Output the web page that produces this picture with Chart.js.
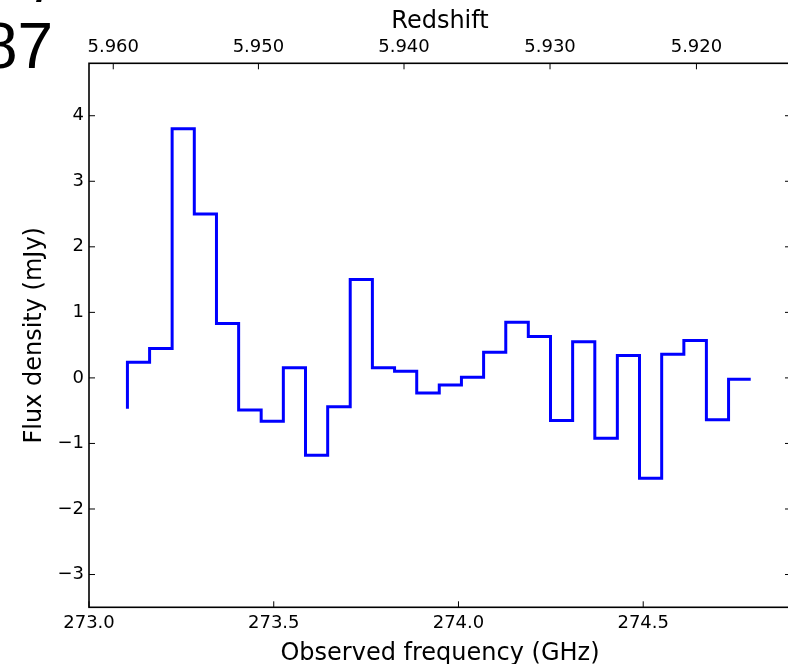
<!DOCTYPE html>
<html>
<head>
<meta charset="utf-8">
<script src="https://cdn.jsdelivr.net/npm/chart.js@4/dist/chart.umd.min.js"></script>
<style>
  html, body { margin: 0; padding: 0; background: #ffffff; overflow: hidden; }
  #wrap { position: relative; width: 791px; height: 664px; }
  canvas { display: block; }
</style>
</head>
<body>
<div id="wrap"><canvas id="spec" width="791" height="664"></canvas></div>
<script>
// Channel frequencies (GHz) of the binned spectrum
const frequencyGHz = [
  273.104, 273.164, 273.225, 273.285, 273.345, 273.405, 273.466, 273.526,
  273.586, 273.646, 273.707, 273.767, 273.827, 273.887, 273.948, 274.008,
  274.068, 274.128, 274.189, 274.249, 274.309, 274.369, 274.430, 274.490,
  274.550, 274.610, 274.671, 274.731, 274.791
];
// Flux density per channel (mJy)
const fluxMJy = [
  -0.47, 0.24, 0.45, 3.80, 2.50, 0.83, -0.49, -0.66,
  0.155, -1.18, -0.44, 1.50, 0.155, 0.10, -0.23, -0.11,
  0.01, 0.39, 0.85, 0.63, -0.65, 0.55, -0.92, 0.34,
  -1.53, 0.36, 0.57, -0.64, -0.02
];
// Axis ticks
const freqTicks = [273.0, 273.5, 274.0, 274.5];
const fluxTicks = [-3, -2, -1, 0, 1, 2, 3, 4];
const redshiftTicks = [5.960, 5.950, 5.940, 5.930, 5.920];
// [CII] 158 micron rest frequency, used to place the redshift axis
const CII_REST_GHZ = 1900.537;
const panelTag = '87';

const FONT = '"DejaVu Sans", "Liberation Sans", sans-serif';
const tickFont = { family: FONT, size: 18, lineHeight: 1.2 };
const titleFont = { family: FONT, size: 24, lineHeight: 1 };

const points = frequencyGHz.map((f, i) => ({ x: f, y: fluxMJy[i] }));

// Frame, inward tick marks on all four sides, and the clipped panel tag
const framePlugin = {
  id: 'frame',
  afterDraw(chart) {
    const { ctx, chartArea: a, scales } = chart;
    const tl = 6;
    ctx.save();
    ctx.strokeStyle = '#000';
    ctx.lineWidth = 1;
    ctx.beginPath();
    scales.x.ticks.forEach(t => {
      const px = scales.x.getPixelForValue(t.value);
      ctx.moveTo(px, a.bottom); ctx.lineTo(px, a.bottom - tl);
    });
    scales.x2.ticks.forEach(t => {
      const px = scales.x2.getPixelForValue(t.value);
      ctx.moveTo(px, a.top); ctx.lineTo(px, a.top + tl);
    });
    scales.y.ticks.forEach(t => {
      const py = scales.y.getPixelForValue(t.value);
      ctx.moveTo(a.left, py); ctx.lineTo(a.left + tl, py);
      ctx.moveTo(a.right, py); ctx.lineTo(a.right - tl, py);
    });
    ctx.stroke();
    ctx.lineWidth = 1.6;
    ctx.strokeRect(a.left, a.top, a.right - a.left, a.bottom - a.top);

    ctx.fillStyle = '#000';
    ctx.font = '64px "Liberation Sans", sans-serif';
    ctx.textBaseline = 'alphabetic';
    ctx.textAlign = 'left';
    ctx.fillText(panelTag, -18, 68);
    ctx.fillText('/', 36, 1);
    ctx.restore();
  }
};

new Chart(document.getElementById('spec'), {
  type: 'line',
  data: {
    datasets: [{
      data: points,
      stepped: 'after',
      borderColor: '#0000ff',
      borderWidth: 3,
      borderCapStyle: 'butt',
      borderJoinStyle: 'miter',
      pointRadius: 0,
      fill: false,
      xAxisID: 'x',
      yAxisID: 'y'
    }]
  },
  options: {
    responsive: false,
    animation: false,
    layout: { padding: 0 },
    plugins: { legend: { display: false }, tooltip: { enabled: false } },
    scales: {
      x: {
        type: 'linear',
        position: 'bottom',
        min: 273.0,
        max: 274.9,
        grid: { display: false, drawTicks: false },
        border: { display: false },
        afterBuildTicks: s => { s.ticks = freqTicks.map(v => ({ value: v })); },
        afterFit: s => { s.height = 56.7; },
        ticks: {
          color: '#000', font: tickFont, padding: 5, maxRotation: 0,
          callback: v => Number(v).toFixed(1)
        },
        title: {
          display: true, text: 'Observed frequency (GHz)', color: '#000',
          font: titleFont, padding: { top: 0, bottom: -1.5 }
        }
      },
      x2: {
        type: 'linear',
        position: 'top',
        min: 273.0,
        max: 274.9,
        grid: { display: false, drawTicks: false },
        border: { display: false },
        afterBuildTicks: s => {
          s.ticks = redshiftTicks.map(z => ({ value: CII_REST_GHZ / (1 + z) }));
        },
        afterFit: s => { s.height = 63.3; },
        ticks: {
          color: '#000', font: tickFont, padding: 5.5, maxRotation: 0,
          callback: (v, i) => redshiftTicks[i].toFixed(3)
        },
        title: {
          display: true, text: 'Redshift', color: '#000',
          font: titleFont, padding: { top: 10, bottom: 0 }
        }
      },
      y: {
        type: 'linear',
        position: 'left',
        min: -3.5,
        max: 4.8,
        grid: { display: false, drawTicks: false },
        border: { display: false },
        afterBuildTicks: s => { s.ticks = fluxTicks.map(v => ({ value: v })); },
        afterFit: s => { s.width = 89; },
        ticks: {
          color: '#000', font: tickFont, padding: 5,
          callback: v => (v < 0 ? '\u2212' + Math.abs(v) : String(v))
        },
        title: {
          display: true, text: 'Flux density (mJy)', color: '#000',
          font: { family: FONT, size: 24, lineHeight: 1.2 }, padding: { top: 20.6, bottom: 0 }
        }
      }
    }
  },
  plugins: [framePlugin]
});
</script>
</body>
</html>
